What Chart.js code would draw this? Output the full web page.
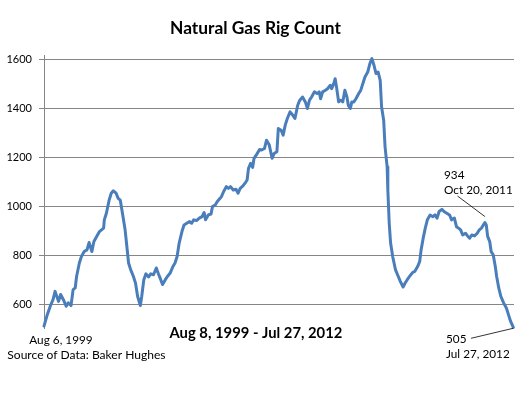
<!DOCTYPE html>
<html><head><meta charset="utf-8">
<script src="https://cdn.jsdelivr.net/npm/chart.js@4.4.0/dist/chart.umd.min.js"></script>
<style>html,body{margin:0;padding:0;background:#fff;}#wrap{width:515px;height:393px;position:relative;}</style>
</head><body><div id="wrap"><canvas id="c" width="515" height="393"></canvas></div>
<script>
// weeks since Aug 6, 1999
const weeks = [0,4,9,13,16,21,24,28,32,35,39,42,45,47,51,54,58,62,65,69,72,76,80,83,86,87,90,94,97,100,104,107,110,114,117,119,122,125,129,132,135,139,141,144,147,151,154,158,162,165,168,171,175,178,182,186,189,192,195,199,202,206,210,213,216,220,224,228,231,233,237,241,243,247,250,254,256,259,263,266,269,273,277,280,283,287,290,293,295,298,301,303,307,311,314,318,321,325,329,332,336,338,342,345,348,351,355,359,362,366,369,373,377,380,383,386,390,394,397,399,402,406,409,413,415,418,420,422,425,428,431,434,437,439,442,444,447,450,454,457,460,463,467,470,473,476,479,482,485,487,490,492,495,496,498,500,503,507,510,514,518,521,524,528,532,535,539,542,544,547,550,553,557,561,564,567,570,574,577,581,585,588,592,595,598,601,604,608,611,614,617,621,625,628,631,636,638,640,643,645,648,651,653,656,659,663,667,670,673,677];
const rigs = [510,550,591,618,652,611,639,618,591,605,594,659,666,713,768,795,815,822,852,815,856,877,897,904,911,945,972,1026,1054,1064,1054,1033,1026,958,904,850,768,741,713,686,632,594,632,700,724,711,724,720,748,724,703,680,700,713,727,754,768,795,850,897,924,931,938,931,945,942,952,958,975,945,965,969,999,1006,1020,1033,1040,1060,1081,1074,1081,1067,1070,1054,1074,1084,1095,1108,1156,1176,1160,1197,1214,1233,1231,1237,1271,1251,1197,1217,1224,1319,1312,1292,1333,1360,1387,1373,1360,1414,1435,1448,1428,1401,1435,1448,1469,1462,1469,1441,1469,1476,1482,1496,1482,1503,1523,1489,1428,1435,1428,1476,1448,1414,1401,1428,1428,1441,1462,1476,1503,1530,1550,1584,1605,1578,1544,1550,1516,1407,1353,1244,1162,1067,931,850,795,741,720,693,670,686,700,716,730,734,754,775,822,870,911,945,965,958,965,952,979,988,979,972,965,945,952,917,911,904,883,890,879,870,883,879,890,904,911,934,924,877,856,815,802,754,713,666,632,605,584,557,530,505];
const yTicks = [600,800,1000,1200,1400,1600];
const chartTitle = 'Natural Gas Rig Count';
const rangeLabel = 'Aug 8, 1999 - Jul 27, 2012';
const startLabel = 'Aug 6, 1999';
const sourceLabel = 'Source of Data: Baker Hughes';
const calloutIdx = [weeks.indexOf(636), weeks.length - 1];
const calloutDates = ['Oct 20, 2011', 'Jul 27, 2012'];

const FAM = 'Lato, "DejaVu Sans", sans-serif';
function fitSize(ctx, text, weight, target){
  ctx.font = weight + ' 100px ' + FAM;
  return 100 * target / ctx.measureText(text).width;
}
function put(ctx, text, weight, size, x, y){
  ctx.font = weight + ' ' + size.toFixed(2) + 'px ' + FAM;
  ctx.fillText(text, x, y);
}

const textPlugin = {
  id: 'texts',
  afterDraw(chart){
    const ctx = chart.ctx, xs = chart.scales.x, ys = chart.scales.y;
    ctx.save();
    ctx.fillStyle = '#000';
    ctx.textAlign = 'left';
    ctx.textBaseline = 'alphabetic';
    let s = fitSize(ctx, chartTitle, 'bold', 171);
    put(ctx, chartTitle, 'bold', s, 170, 33.5);
    s = fitSize(ctx, rangeLabel, 'bold', 173);
    put(ctx, rangeLabel, 'bold', s, 169.5, 337.7);
    s = fitSize(ctx, startLabel, 'normal', 63.4);
    put(ctx, startLabel, 'normal', s, 29.3, 344);
    s = fitSize(ctx, sourceLabel, 'normal', 158.4);
    put(ctx, sourceLabel, 'normal', s, 7.3, 359);
    const cs = fitSize(ctx, calloutDates[0], 'normal', 68.7);
    // callout 1
    let i = calloutIdx[0];
    put(ctx, String(rigs[i]), 'normal', cs, 444, 179);
    put(ctx, calloutDates[0], 'normal', cs, 444, 194.3);
    ctx.strokeStyle = '#000'; ctx.lineWidth = 0.8;
    ctx.beginPath();
    ctx.moveTo(457.5, 196);
    ctx.lineTo(xs.getPixelForValue(weeks[i]), ys.getPixelForValue(rigs[i]) - 6);
    ctx.stroke();
    // callout 2
    i = calloutIdx[1];
    put(ctx, String(rigs[i]), 'normal', cs, 446, 343);
    put(ctx, calloutDates[1], 'normal', cs, 446, 357.7);
    ctx.beginPath();
    ctx.moveTo(471, 338.3);
    ctx.lineTo(xs.getPixelForValue(weeks[i]), ys.getPixelForValue(rigs[i]) + 1);
    ctx.stroke();
    ctx.restore();
  }
};

new Chart(document.getElementById('c'), {
  type: 'line',
  data: { datasets: [{
    data: weeks.map((w, k) => ({x: w, y: rigs[k]})),
    borderColor: '#4A7EBB', borderWidth: 3, pointRadius: 0, tension: 0,
    fill: false, clip: false, borderJoinStyle: 'round', borderCapStyle: 'round'
  }]},
  options: {
    responsive: false, animation: false, devicePixelRatio: 1,
    layout: { padding: { top: 55, left: 0, right: 1, bottom: 64.5 } },
    scales: {
      x: { type: 'linear', min: 0, max: 678, display: false },
      y: {
        min: 500, max: 1620,
        afterFit(s){ s.width = 44; },
        afterBuildTicks(s){ s.ticks = yTicks.map(v => ({value: v})); },
        grid: { color: '#868686', lineWidth: 1, tickLength: 5, drawTicks: true },
        border: { display: true, color: '#868686', width: 1 },
        ticks: { padding: 7, color: '#000', font: { family: 'Lato', size: 11 }, callback: v => String(v) }
      }
    },
    plugins: { legend: { display: false }, tooltip: { enabled: false }, title: { display: false } }
  },
  plugins: [textPlugin]
});
</script></body></html>
